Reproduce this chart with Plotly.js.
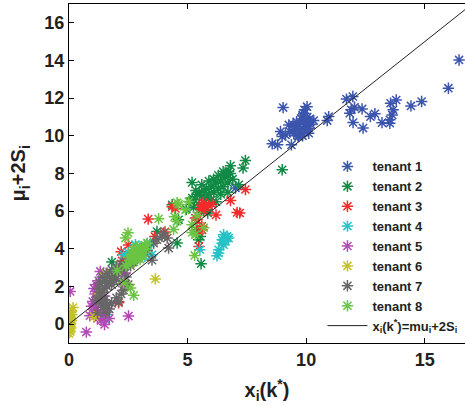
<!DOCTYPE html>
<html>
<head>
<meta charset="utf-8">
<script src="https://cdn.plot.ly/plotly-3.0.1.min.js"></script>
<style>
  html, body { margin: 0; padding: 0; background: #fff; }
  #chart { width: 465px; height: 406px; }
</style>
</head>
<body>
<div id="chart"></div>
<script>
// x_i(k*) against mu_i + 2 S_i for eight tenants, with the y = x reference line.
const tenantNames = ["tenant 1", "tenant 2", "tenant 3", "tenant 4", "tenant 5", "tenant 6", "tenant 7", "tenant 8"];

const t1x = [16.45, 16.0, 14.87, 14.42, 13.8, 13.56, 13.67, 13.63, 13.53, 13.53, 13.2, 12.9, 12.71, 12.36, 12.4, 11.98, 11.84, 11.9, 12.04, 11.97, 11.7, 9.03, 10.95, 10.89, 10.32, 10.11, 9.69, 9.38, 8.92, 8.99, 9.13, 9.31, 9.48, 9.27, 8.57, 8.8, 10.04, 9.93, 9.58, 7.02, 9.7, 9.8, 9.85, 9.9, 9.95, 10.0, 10.05, 10.1, 9.75, 9.6, 9.9, 10.15, 10.2, 9.8, 9.65, 10.0, 9.55, 9.45, 9.85, 10.05];
const t1y = [14.03, 12.53, 11.82, 11.59, 11.9, 11.73, 11.38, 11.11, 10.85, 10.67, 10.7, 11.17, 11.02, 11.43, 10.41, 10.71, 11.2, 11.38, 11.52, 12.09, 11.95, 11.5, 11.02, 10.81, 10.81, 10.14, 9.96, 9.52, 10.23, 9.96, 10.05, 10.23, 10.14, 10.58, 9.58, 9.52, 11.55, 11.38, 10.49, 7.23, 10.6, 10.9, 11.1, 10.8, 10.5, 10.7, 11.0, 10.4, 10.3, 10.75, 11.2, 10.9, 10.6, 10.2, 10.0, 10.3, 10.35, 10.6, 10.0, 10.8];

const t2x = [7.44, 7.34, 6.81, 6.73, 6.59, 8.99, 7.16, 5.19, 4.35, 4.62, 3.71, 4.56, 5.54, 5.47, 5.37, 5.57, 5.82, 5.85, 1.81, 5.3, 5.4, 5.5, 5.6, 5.7, 5.8, 5.9, 6.0, 6.1, 6.2, 6.3, 6.4, 6.5, 6.6, 6.7, 6.9, 6.0, 5.7, 6.2, 5.5, 5.2, 5.1, 5.9, 6.3, 6.8, 6.5, 5.6, 6.1, 5.35, 6.7, 6.4, 5.8, 4.95, 5.25, 5.6];
const t2y = [8.69, 8.29, 8.41, 8.11, 7.97, 8.2, 7.4, 7.52, 6.34, 5.54, 4.92, 4.31, 4.66, 4.48, 5.01, 3.21, 6.07, 5.9, 3.3, 6.6, 6.9, 7.0, 6.8, 7.1, 7.2, 6.9, 7.3, 7.0, 7.5, 7.2, 7.6, 7.3, 7.8, 7.5, 7.7, 6.6, 6.4, 6.5, 6.3, 6.7, 6.5, 7.6, 7.9, 8.0, 8.1, 7.4, 7.7, 7.1, 7.0, 6.9, 6.7, 6.1, 6.2, 6.1];

const t3x = [7.44, 6.81, 7.09, 7.2, 6.2, 6.03, 5.89, 5.61, 5.54, 5.68, 5.75, 5.65, 3.34, 4.35, 4.49, 5.33, 5.4, 5.54, 5.61, 4.05, 3.62, 5.48, 2.51, 2.2, 2.24, 2.09, 5.6];
const t3y = [7.15, 6.57, 5.93, 5.9, 5.8, 6.37, 6.29, 6.32, 6.13, 6.05, 6.22, 6.45, 5.58, 6.24, 6.14, 5.64, 5.54, 5.1, 5.01, 4.9, 4.65, 4.13, 4.2, 3.85, 3.36, 1.14, 5.2];

const t4x = [6.52, 6.67, 6.46, 6.6, 6.52, 6.73, 6.6, 6.45, 6.31, 6.31, 6.24, 5.52, 2.3, 2.5, 2.8, 3.0, 3.29, 3.43, 3.5, 3.2, 2.7, 1.53, 1.6];
const t4y = [4.75, 4.66, 4.48, 4.39, 4.22, 4.57, 4.6, 4.3, 3.95, 3.78, 3.63, 3.95, 3.69, 3.8, 4.22, 4.1, 4.13, 4.3, 3.69, 3.6, 3.5, 0.26, 0.5];

const t5x = [0.05, 0.73, 0.88, 2.51, 1.5, 1.32, 2.38, 1.05, 1.1, 1.15, 1.2, 1.0, 1.1, 1.25, 1.3, 1.4, 1.45, 1.55, 1.6, 1.2, 1.35, 1.05, 1.5, 2.2, 2.35, 2.3, 1.6, 1.7, 0.95, 1.25];
const t5y = [1.74, -0.42, 0.45, 0.43, -0.02, 2.8, 2.72, 1.9, 1.6, 2.1, 1.4, 1.2, 0.9, 0.7, 1.8, 1.2, 0.5, 0.7, 1.0, 0.3, 0.2, 0.6, 1.5, 2.3, 2.1, 2.0, 2.2, 0.3, 0.95, 2.3];

const t6x = [0.0, 0.02, 0.05, 0.03, 0.06, 0.02, 0.08, 0.17, 0.04, 0.1, 0.0, 0.05, 0.08, 0.12, 0.03, 0.07, 1.06, 3.64, 1.3, 1.55];
const t6y = [-0.5, -0.3, -0.1, 0.1, 0.3, 0.45, 0.6, 0.88, 0.0, 0.2, 0.7, -0.4, -0.2, 0.5, 0.25, 0.05, 0.4, 2.4, 1.6, 2.7];

const t7x = [1.3, 1.4, 1.5, 1.6, 1.7, 1.8, 1.9, 2.0, 2.1, 2.2, 2.3, 2.4, 1.5, 1.6, 1.7, 1.8, 1.9, 2.0, 1.4, 1.3, 1.5, 1.6, 1.8, 2.0, 2.1, 1.7, 1.55, 1.45, 1.35, 2.2, 2.3, 2.5, 1.25, 3.5, 3.57, 3.71, 3.92, 4.14, 4.2, 3.99, 3.3, 3.2, 2.9, 2.7, 2.6, 1.15, 1.2, 2.4];
const t7y = [2.2, 2.5, 2.3, 2.7, 2.5, 2.9, 2.6, 3.0, 2.8, 3.2, 2.9, 3.3, 1.9, 2.0, 2.2, 2.1, 2.3, 2.4, 1.7, 1.5, 1.3, 1.05, 1.1, 1.4, 1.2, 0.8, 0.6, 0.9, 1.1, 1.6, 1.8, 2.1, 1.9, 3.4, 4.3, 4.48, 4.66, 4.57, 4.04, 4.84, 3.9, 4.1, 3.5, 3.3, 3.1, 1.3, 0.6, 2.5];

const t8x = [2.6, 2.7, 2.8, 2.9, 3.0, 3.1, 3.2, 2.75, 2.85, 2.95, 3.05, 3.15, 2.5, 2.65, 2.9, 3.3, 3.0, 2.4, 2.55, 3.1, 3.25, 2.85, 2.7, 3.78, 2.49, 2.38, 4.45, 4.41, 5.19, 5.33, 5.3, 2.6, 2.73, 2.3, 2.03, 4.56, 4.62, 4.91, 4.56, 5.05, 5.4, 5.68, 5.19];
const t8y = [3.4, 3.6, 3.8, 3.7, 3.9, 4.0, 4.2, 3.3, 3.5, 3.6, 3.75, 3.95, 3.2, 3.7, 4.0, 4.3, 3.45, 3.1, 3.55, 3.6, 4.0, 4.1, 3.95, 5.6, 4.85, 4.57, 5.7, 5.03, 4.87, 4.75, 3.65, 1.92, 1.53, 2.19, 2.85, 6.45, 6.36, 6.07, 5.45, 6.51, 5.76, 5.12, 5.28];

// reference line x_i(k*) = mu_i + 2 S_i
const lineX = [0, 16.7];
const lineY = [0, 16.7];

const tenantX = [t1x, t2x, t3x, t4x, t5x, t6x, t7x, t8x];
const tenantY = [t1y, t2y, t3y, t4y, t5y, t6y, t7y, t8y];
const tenantColors = ["#3b55ad", "#108a45", "#f22b2b", "#25c3c6", "#b349b3", "#c3c327", "#676767", "#6cc443"];

const traces = tenantNames.map((name, i) => ({
  type: "scatter",
  mode: "markers",
  name: name,
  x: tenantX[i],
  y: tenantY[i],
  marker: {
    symbol: "asterisk-open",
    size: 9.5,
    color: tenantColors[i],
    line: { color: tenantColors[i], width: 1.5 }
  }
}));

traces.push({
  type: "scatter",
  mode: "lines",
  name: "x<sub>i</sub>(k<sup>*</sup>)=mu<sub>i</sub>+2S<sub>i</sub>",
  x: lineX,
  y: lineY,
  line: { color: "#222", width: 1 }
});

const fontFamily = "Liberation Sans, Arial, sans-serif";
const tickFont = { family: fontFamily, size: 18, color: "#231f20", weight: 700 };
const titleFont = { family: fontFamily, size: 20, color: "#231f20", weight: 700 };

const layout = {
  width: 465,
  height: 406,
  margin: { l: 69, r: 0, t: 4, b: 63 },
  paper_bgcolor: "#fff",
  plot_bgcolor: "#fff",
  showlegend: true,
  xaxis: {
    range: [0, 16.7],
    tickvals: [0, 5, 10, 15],
    ticktext: ["0", "5", "10", "15"],
    ticks: "inside",
    ticklen: 5,
    tickwidth: 1,
    tickcolor: "#000",
    showline: true,
    linecolor: "#000",
    linewidth: 1,
    mirror: "ticks",
    showgrid: false,
    zeroline: false,
    tickfont: tickFont,
    title: {
      text: "x<sub>i</sub>(k<sup>*</sup>)",
      font: titleFont,
      standoff: 14
    }
  },
  yaxis: {
    range: [-1, 17],
    tickvals: [0, 2, 4, 6, 8, 10, 12, 14, 16],
    ticktext: ["0", "2", "4", "6", "8", "10", "12", "14", "16"],
    ticks: "inside",
    ticklen: 5,
    tickwidth: 1,
    tickcolor: "#000",
    showline: true,
    linecolor: "#000",
    linewidth: 1,
    mirror: false,
    showgrid: false,
    zeroline: false,
    tickfont: tickFont
  },
  // y-axis title placed as a rotated annotation so it sits well left of the tick labels
  annotations: [{
    text: "μ<sub>i</sub>+2S<sub>i</sub>",
    font: titleFont,
    textangle: -90,
    xref: "paper",
    yref: "paper",
    x: -0.124,
    y: 0.5,
    xanchor: "center",
    yanchor: "middle",
    showarrow: false
  }],
  legend: {
    x: 0.640,
    y: 0.565,
    xanchor: "left",
    yanchor: "top",
    itemwidth: 40,
    bgcolor: "rgba(255,255,255,0)",
    borderwidth: 0,
    font: { family: fontFamily, size: 13, color: "#231f20", weight: 700 }
  }
};

Plotly.newPlot("chart", traces, layout, { displayModeBar: false, staticPlot: true });
</script>
</body>
</html>
